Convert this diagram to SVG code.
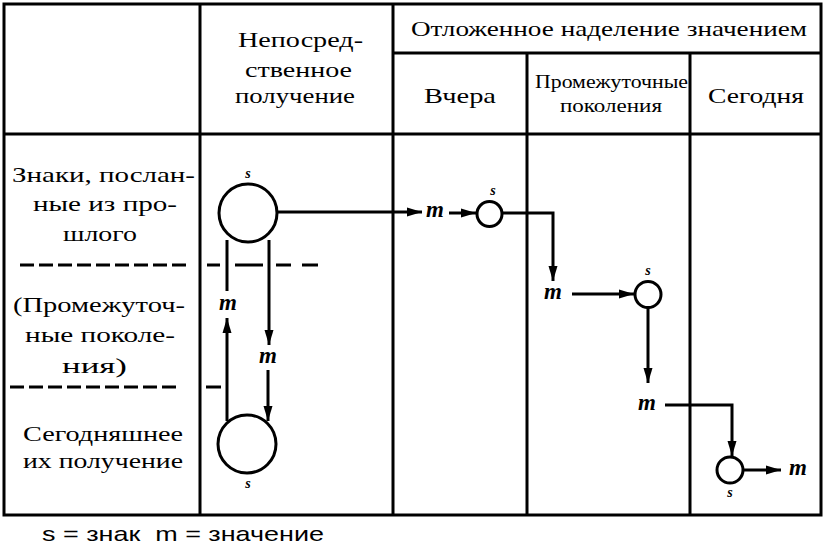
<svg xmlns="http://www.w3.org/2000/svg" width="826" height="547" viewBox="0 0 826 547">
<defs>
<marker id="ah" markerUnits="userSpaceOnUse" markerWidth="16" markerHeight="10" refX="15" refY="5" orient="auto">
<path d="M0,0.5 L15,5 L0,9.5 z" fill="#000"/>
</marker>
<style>
.grid{stroke:#000;stroke-width:3;fill:none}
.dash{stroke:#000;stroke-width:3;stroke-dasharray:14 5;fill:none}
.seg{stroke:#000;stroke-width:3;fill:none}
.t{font-family:"Liberation Serif","DejaVu Serif",serif;font-size:22px;fill:#000}
.ts{font-family:"Liberation Serif","DejaVu Serif",serif;font-size:18px;fill:#000}
.cap{font-family:"Liberation Sans","DejaVu Sans",sans-serif;font-size:21px;fill:#000}
.m{font-family:"Liberation Serif","DejaVu Serif",serif;font-size:23px;font-weight:bold;font-style:italic;fill:#000;text-anchor:middle}
.s{font-family:"Liberation Serif","DejaVu Serif",serif;font-size:14px;font-weight:bold;font-style:italic;fill:#000;text-anchor:middle}
.node{fill:#fff;stroke:#000;stroke-width:3}
.conn{stroke:#000;stroke-width:3;fill:none}
.arr{marker-end:url(#ah)}
</style>
</defs>
<rect width="826" height="547" fill="#fff"/>
<g id="table">
<rect class="grid" x="4" y="4" width="817" height="511"/>
<line class="grid" x1="200" y1="4" x2="200" y2="515"/>
<line class="grid" x1="393" y1="4" x2="393" y2="515"/>
<line class="grid" x1="527" y1="53" x2="527" y2="515"/>
<line class="grid" x1="690" y1="53" x2="690" y2="515"/>
<line class="grid" x1="393" y1="53" x2="821" y2="53"/>
<line class="grid" x1="4" y1="134" x2="821" y2="134"/>
<line class="dash" x1="20" y1="265" x2="187" y2="265"/>
<line class="dash" x1="10" y1="387" x2="180" y2="387"/>
<line class="seg" x1="207" y1="265" x2="220" y2="265"/>
<line class="seg" x1="235" y1="265" x2="263" y2="265"/>
<line class="seg" x1="276" y1="265" x2="291" y2="265"/>
<line class="seg" x1="302" y1="265" x2="318" y2="265"/>
<line class="seg" x1="206" y1="387" x2="221" y2="387"/>
</g>
<g id="headers">
<text class="t" x="238" y="47" textLength="125" lengthAdjust="spacingAndGlyphs">Непосред-</text>
<text class="t" x="245" y="77" textLength="107" lengthAdjust="spacingAndGlyphs">ственное</text>
<text class="t" x="235" y="103" textLength="120" lengthAdjust="spacingAndGlyphs">получение</text>
<text class="t" x="411" y="36" textLength="396" lengthAdjust="spacingAndGlyphs">Отложенное наделение значением</text>
<text class="t" x="424" y="103" textLength="72" lengthAdjust="spacingAndGlyphs">Вчера</text>
<text class="ts" x="535" y="88" textLength="153" lengthAdjust="spacingAndGlyphs">Промежуточные</text>
<text class="ts" x="560" y="112" textLength="102" lengthAdjust="spacingAndGlyphs">поколения</text>
<text class="t" x="708" y="103" textLength="96" lengthAdjust="spacingAndGlyphs">Сегодня</text>
</g>
<g id="rowlabels">
<text class="t" x="12" y="182" textLength="183" lengthAdjust="spacingAndGlyphs">Знаки, послан-</text>
<text class="t" x="33" y="211" textLength="144" lengthAdjust="spacingAndGlyphs">ные из про-</text>
<text class="t" x="63" y="241" textLength="74" lengthAdjust="spacingAndGlyphs">шлого</text>
<text class="t" x="13" y="312" textLength="172" lengthAdjust="spacingAndGlyphs">(Промежуточ-</text>
<text class="t" x="25" y="342" textLength="150" lengthAdjust="spacingAndGlyphs">ные поколе-</text>
<text class="t" x="62" y="373" textLength="65" lengthAdjust="spacingAndGlyphs">ния)</text>
<text class="t" x="23" y="441" textLength="160" lengthAdjust="spacingAndGlyphs">Сегодняшнее</text>
<text class="t" x="23" y="468" textLength="160" lengthAdjust="spacingAndGlyphs">их получение</text>
</g>
<g id="connectors">
<line class="conn arr" x1="278" y1="212" x2="422" y2="212"/>
<line class="conn arr" x1="449" y1="213" x2="476" y2="213"/>
<polyline class="conn arr" points="503,213 553,213 553,281"/>
<line class="conn arr" x1="572" y1="294" x2="634" y2="294"/>
<line class="conn arr" x1="648" y1="307" x2="648" y2="383"/>
<polyline class="conn arr" points="665,405 732,405 732,456"/>
<line class="conn arr" x1="744" y1="470" x2="781" y2="470"/>
<line class="conn" x1="227" y1="240" x2="227" y2="291"/>
<line class="conn arr" x1="227" y1="421" x2="227" y2="318"/>
<line class="conn arr" x1="269" y1="240" x2="269" y2="345"/>
<line class="conn arr" x1="268" y1="370" x2="268" y2="421"/>
</g>
<g id="labels-m">
<text class="m" x="435" y="217">m</text>
<text class="m" x="228" y="310">m</text>
<text class="m" x="268" y="363">m</text>
<text class="m" x="553" y="299">m</text>
<text class="m" x="647" y="410">m</text>
<text class="m" x="798" y="475">m</text>
</g>
<g id="node-s1">
<circle class="node" cx="248" cy="213" r="29"/>
<text class="s" x="248" y="178">s</text>
</g>
<g id="node-s2">
<circle class="node" cx="247" cy="444" r="29"/>
<text class="s" x="248" y="488">s</text>
</g>
<g id="node-s3">
<circle class="node" cx="489.5" cy="214" r="12.5"/>
<text class="s" x="493" y="195">s</text>
</g>
<g id="node-s4">
<circle class="node" cx="648" cy="294.5" r="13"/>
<text class="s" x="648" y="275">s</text>
</g>
<g id="node-s5">
<circle class="node" cx="730" cy="470" r="13"/>
<text class="s" x="730" y="497">s</text>
</g>
<text class="cap" x="42" y="541" textLength="282" lengthAdjust="spacingAndGlyphs" xml:space="preserve">s = знак  m = значение</text>
</svg>
